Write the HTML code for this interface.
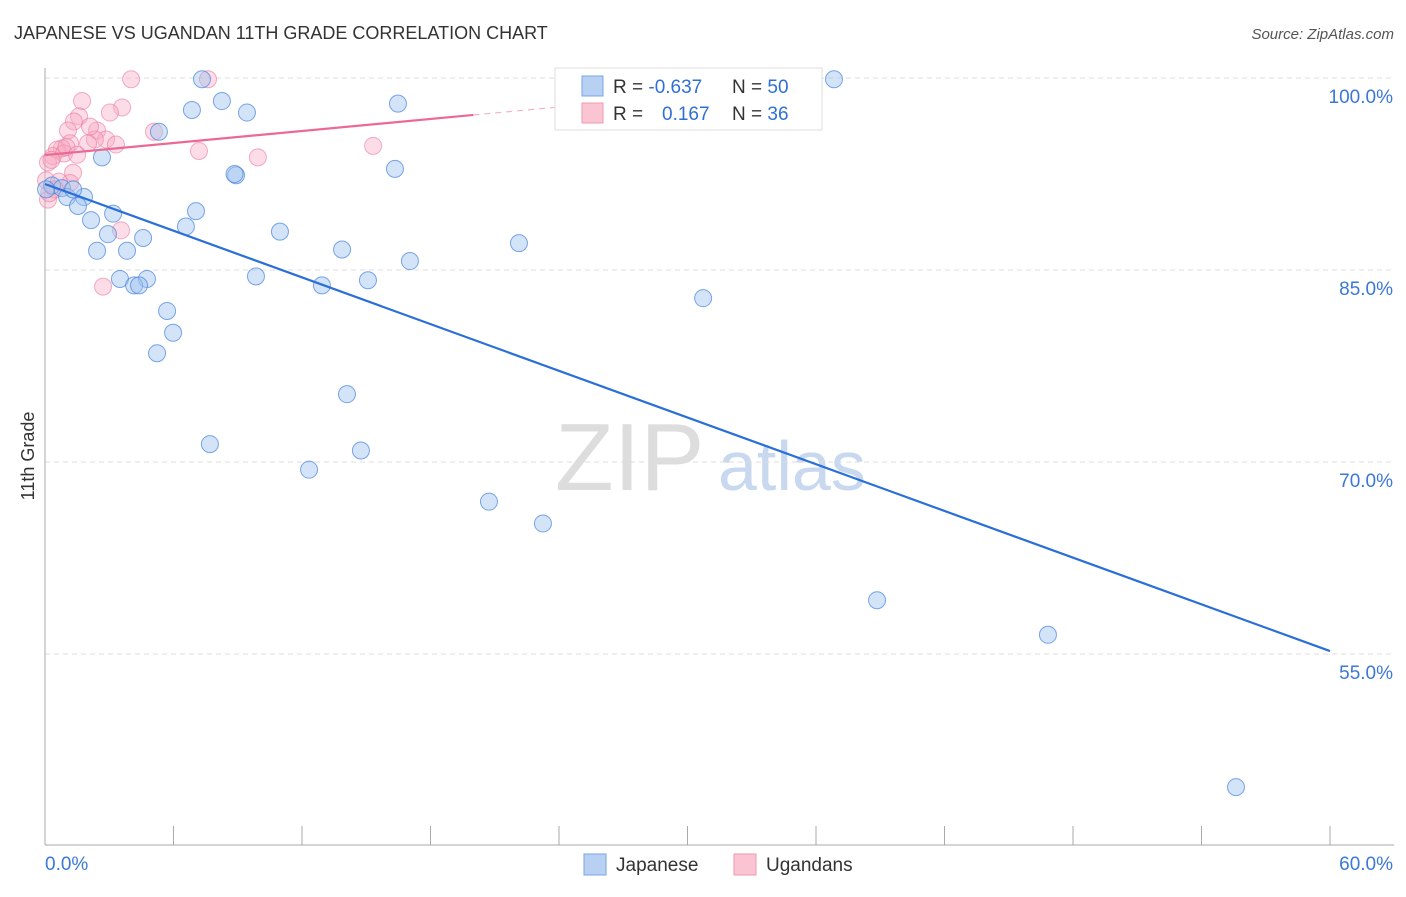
<!DOCTYPE html>
<html><head><meta charset="utf-8"><style>
body{margin:0;background:#fff;font-family:"Liberation Sans",sans-serif}
svg text{font-family:"Liberation Sans",sans-serif}
</style></head><body>
<svg id="c" width="1406" height="892">
<text x="14" y="39" font-size="18" fill="#333">JAPANESE VS UGANDAN 11TH GRADE CORRELATION CHART</text>
<text x="1394" y="39" font-size="15" fill="#555" text-anchor="end" font-style="italic">Source: ZipAtlas.com</text>
<text x="34" y="456" font-size="18" fill="#333" text-anchor="middle" transform="rotate(-90 34 456)">11th Grade</text>
<text x="555" y="490" font-size="96" fill="#ddd" font-family="Liberation Serif">ZIP</text>
<text x="718" y="490" font-size="70" fill="#c8d8ef">atlas</text>
<g id="grid"></g><g id="axes"></g><g id="pts"></g><g id="lines"></g>
<g>
<rect x="555" y="68" width="267" height="62" fill="#fff" stroke="#ddd"/>
<rect x="582" y="76" width="21" height="20" fill="#b8d0f2" stroke="#7aa5e6"/>
<rect x="582" y="103" width="21" height="20" fill="#fac4d3" stroke="#ef9ab3"/>
<text x="613" y="93" font-size="19" fill="#333">R = <tspan fill="#2f6fd6">-0.637</tspan></text>
<text x="732" y="93" font-size="19" fill="#333">N = <tspan fill="#2f6fd6">50</tspan></text>
<text x="613" y="120" font-size="19" fill="#333">R = <tspan fill="#2f6fd6" x="662">0.167</tspan></text>
<text x="732" y="120" font-size="19" fill="#333">N = <tspan fill="#2f6fd6">36</tspan></text>
</g>
<g>
<rect x="584" y="854" width="22" height="21" fill="#b8d0f2" stroke="#7aa5e6"/>
<text x="616" y="871" font-size="19" fill="#333">Japanese</text>
<rect x="734" y="854" width="22" height="21" fill="#fac4d3" stroke="#ef9ab3"/>
<text x="766" y="871" font-size="19" fill="#333">Ugandans</text>
</g>
</svg>
<script>
const yTicks=[100,85,70,55];
const yTickLabels=["100.0%","85.0%","70.0%","55.0%"];
const xTickLabels=["0.0%","60.0%"];
const japX=[7.33,36.84,6.86,8.26,9.43,16.48,5.32,2.66,8.92,16.34,0.33,0.79,1.03,1.82,1.31,1.54,3.18,2.15,7.05,6.58,2.94,4.58,10.97,2.43,3.83,13.87,22.13,17.04,9.85,3.50,4.76,4.16,4.39,12.93,15.08,30.73,5.70,5.98,5.23,14.10,7.70,14.75,12.33,20.73,23.25,38.85,46.83,55.61,0.05,8.85];
const japY=[99.9,99.9,97.5,98.2,97.3,98.0,95.8,93.8,92.4,92.9,91.6,91.4,90.7,90.7,91.3,90.0,89.4,88.9,89.6,88.4,87.8,87.5,88.0,86.5,86.5,86.6,87.1,85.7,84.5,84.3,84.3,83.8,83.8,83.8,84.2,82.8,81.8,80.1,78.5,75.3,71.4,70.9,69.4,66.9,65.2,59.2,56.5,44.6,91.3,92.5];
const ugX=[4.02,7.61,1.73,3.60,3.03,1.59,1.35,1.07,2.43,5.09,1.17,2.85,2.33,3.31,0.79,0.56,2.01,15.32,7.19,9.94,0.37,0.14,1.31,0.05,1.17,0.65,0.14,3.55,2.71,0.47,0.89,2.10,0.3,1.0,0.2,1.5];
const ugY=[99.9,99.9,98.2,97.7,97.3,97.0,96.6,95.9,95.9,95.8,94.9,95.2,95.2,94.8,94.5,94.4,94.9,94.7,94.3,93.8,93.9,93.4,92.6,92.0,91.8,91.9,90.5,88.1,83.7,91.3,94.1,96.2,93.6,94.6,91.0,94.0];
const japLine=[91.72,55.23];
const ugLine=[93.98,0.1566];
const X=v=>45+v/60*1285, Y=v=>78+(100-v)/15*192;
const NS="http://www.w3.org/2000/svg";
function mk(t,a,p){const e=document.createElementNS(NS,t);for(const k in a)e.setAttribute(k,a[k]);document.getElementById(p).appendChild(e);return e;}
yTicks.forEach((t,i)=>{
 const g=mk('line',{x1:45,x2:1394,y1:Y(t),y2:Y(t),stroke:'#ddd','stroke-dasharray':'5,4'},'grid');
 
 
 const l=mk('text',{x:1393,y:Y(t)+25,'font-size':19,fill:'#3b78d8','text-anchor':'end'},'grid');l.textContent=yTickLabels[i];
 
 
});
mk('line',{x1:45,x2:45,y1:68,y2:845,stroke:'#aaa'},'axes');
mk('line',{x1:45,x2:1394,y1:845,y2:845,stroke:'#aaa'},'axes');
for(let i=0;i<=10;i++){const t=mk('line',{x1:X(i*6),x2:X(i*6),y1:826,y2:845,stroke:'#aaa'},'axes');
 
 }
[[0,'start'],[60,'end']].forEach((p,i)=>{const l=mk('text',{x:X(p[0])+(i?63:0),y:870,'font-size':19,fill:'#3b78d8','text-anchor':i?'end':'start'},'axes');l.textContent=xTickLabels[i];
 
 });
ugX.forEach((v,i)=>{const c=mk('circle',{cx:X(v),cy:Y(ugY[i]),r:8.5,fill:'rgba(248,170,195,0.4)',stroke:'rgba(235,120,155,0.6)'},'pts');
 
 });
japX.forEach((v,i)=>{const c=mk('circle',{cx:X(v),cy:Y(japY[i]),r:8.5,fill:'rgba(160,195,240,0.45)',stroke:'rgba(70,130,220,0.7)'},'pts');
 
 });
const bl=mk('line',{x1:X(0),y1:Y(japLine[0]),x2:X(60),y2:Y(japLine[1]),stroke:'#2a6fd8','stroke-width':2.2},'lines');


const pl=mk('line',{x1:X(0),y1:Y(ugLine[0]),x2:X(20),y2:Y(ugLine[0]+ugLine[1]*20),stroke:'#ea6a93','stroke-width':2.2},'lines');


const pd=mk('line',{x1:X(20),y1:Y(ugLine[0]+ugLine[1]*20),x2:X(36),y2:Y(ugLine[0]+ugLine[1]*36),stroke:'#f2b5c8','stroke-width':1.2,'stroke-dasharray':'6,5'},'lines');


</script>
</body></html>
